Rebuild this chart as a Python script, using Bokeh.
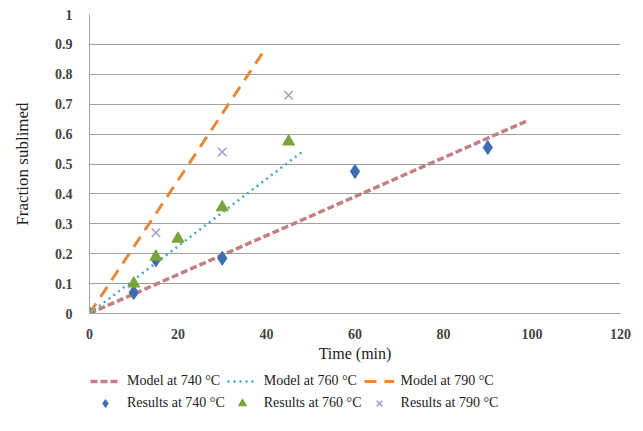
from bokeh.plotting import figure
from bokeh.models import Legend, LegendItem, Range1d, SingleIntervalTicker
from bokeh.layouts import column
from bokeh.embed import file_html
from bokeh.resources import INLINE

# Model lines (start, end)
model740_t = [0, 99]
model740_f = [0, 0.645]
model760_t = [0, 48]
model760_f = [0, 0.54]
model790_t = [0, 39.5]
model790_f = [0, 0.88]

# Experimental results
res740_t = [0, 10, 15, 30, 60, 90]
res740_f = [0, 0.07, 0.18, 0.185, 0.475, 0.555]
res760_t = [0, 10, 15, 20, 30, 45]
res760_f = [0, 0.10, 0.19, 0.25, 0.355, 0.575]
res790_t = [0, 15, 30, 45]
res790_f = [0, 0.27, 0.54, 0.73]

labels = ["Model at 740 °C", "Model at 760 °C", "Model at 790 °C",
          "Results at 740 °C", "Results at 760 °C", "Results at 790 °C"]

FONT = "Liberation Serif"

line_styles = [
    dict(line_color="#c47f82", line_width=3.5, line_dash="7 3"),
    dict(line_color="#4aa3b8", line_width=2.5, line_dash="2 4"),
    dict(line_color="#e8893a", line_width=3, line_dash="12 8"),
]
marker_styles = [
    dict(marker="diamond", size=14, fill_color="#3e6eb0", line_color="#3e6eb0"),
    dict(marker="triangle", size=12, fill_color="#7aa33c", line_color="#7aa33c"),
    dict(marker="x", size=12, line_color="#a29bc9", line_width=1.5),
]
line_data = [(model740_t, model740_f), (model760_t, model760_f), (model790_t, model790_f)]
marker_data = [(res740_t, res740_f), (res760_t, res760_f), (res790_t, res790_f)]

p = figure(width=635, height=368, output_backend="svg", toolbar_location=None,
           x_range=Range1d(0, 120), y_range=Range1d(0, 1),
           min_border_left=89, min_border_right=15, min_border_top=14,
           min_border_bottom=55)
p.outline_line_color = None
p.background_fill_color = "white"
p.border_fill_color = "white"

p.xgrid.visible = False
p.ygrid.grid_line_color = "#a0a0a0"
p.ygrid.grid_line_width = 1.2
p.yaxis.ticker = SingleIntervalTicker(interval=0.1)
p.xaxis.ticker = SingleIntervalTicker(interval=20)

for ax in (p.xaxis[0], p.yaxis[0]):
    ax.major_tick_line_color = None
    ax.minor_tick_line_color = None
    ax.major_label_text_font = FONT
    ax.major_label_text_font_size = "14px"
    ax.major_label_text_font_style = "bold"
    ax.major_label_text_color = "#444444"
    ax.axis_label_text_font = FONT
    ax.axis_label_text_font_style = "normal"
    ax.axis_label_text_color = "#222222"
p.xaxis.axis_label_text_font_size = "16px"
p.yaxis.axis_label_text_font_size = "17px"
p.xaxis.axis_line_color = "#a0a0a0"
p.yaxis.axis_line_color = "#a0a0a0"
p.xaxis.axis_label = "Time (min)"
p.yaxis.axis_label = "Fraction sublimed"
p.xaxis.major_label_standoff = 9
p.yaxis.major_label_standoff = 11
p.xaxis.axis_label_standoff = 3
p.yaxis.axis_label_standoff = 20

for (xs, ys), s in zip(line_data, line_styles):
    p.line(xs, ys, **s)
for (xs, ys), s in zip(marker_data, marker_styles):
    p.scatter(xs, ys, **s)

# Legend in its own strip below the chart (its renderers lie outside the strip's view)
lf = figure(width=635, height=55, output_backend="svg", toolbar_location=None,
            x_range=Range1d(1000, 1001), y_range=Range1d(1000, 1001),
            x_axis_location=None, y_axis_location=None,
            min_border_left=0, min_border_right=0, min_border_top=0, min_border_bottom=0)
lf.grid.visible = False
lf.outline_line_color = None
lf.border_fill_color = "white"

rends = [lf.line(xs, ys, **s) for (xs, ys), s in zip(line_data, line_styles)] + \
        [lf.scatter(xs, ys, **s) for (xs, ys), s in zip(marker_data, marker_styles)]

legend = Legend(items=[LegendItem(label=lab, renderers=[r]) for lab, r in zip(labels, rends)],
                orientation="horizontal", ncols=3, location=(1, 10))
legend.label_text_font = FONT
legend.label_text_font_size = "14px"
legend.label_text_color = "#222222"
legend.border_line_color = None
legend.background_fill_alpha = 0
legend.spacing = 2
legend.glyph_width = 30
legend.label_standoff = 7
legend.padding = 0
legend.margin = 0
lf.add_layout(legend, "center")

layout = column(p, lf, spacing=0)
open("out.html", "w").write(file_html(layout, INLINE))
